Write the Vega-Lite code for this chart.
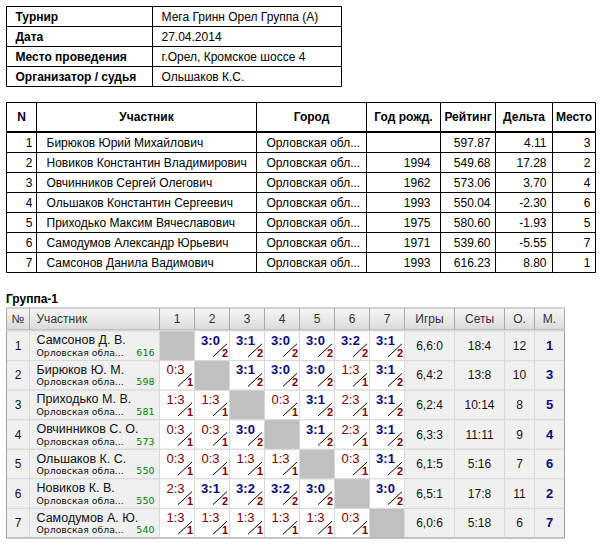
{
  "$schema": "https://vega.github.io/schema/vega-lite/v6.json",
  "background": "white",
  "padding": {"left": 5.5, "top": 5.5, "right": 0, "bottom": 0},
  "config": {
    "view": {"stroke": null},
    "axis": {"disable": true},
    "legend": {"disable": true},
    "locale": {"number": {"decimal": ".", "thousands": ",", "grouping": [3], "currency": ["$", ""], "minus": "-"}},
    "text": {"font": "Liberation Sans", "fontSize": 12, "baseline": "middle", "color": "black"}
  },
  "datasets": {
    "info": [
      {"k": 1, "label": "Турнир", "value": "Мега Гринн Орел Группа (А)"},
      {"k": 2, "label": "Дата", "value": "27.04.2014"},
      {"k": 3, "label": "Место проведения", "value": "г.Орел, Кромское шоссе 4"},
      {"k": 4, "label": "Организатор / судья", "value": "Ольшаков К.С."}
    ],
    "players": [
      {"n": 1, "name": "Бирюков Юрий Михайлович", "city": "Орловская обл...", "year": null, "rating": 597.87, "delta": 4.11, "place": 3},
      {"n": 2, "name": "Новиков Константин Владимирович", "city": "Орловская обл...", "year": 1994, "rating": 549.68, "delta": 17.28, "place": 2},
      {"n": 3, "name": "Овчинников Сергей Олегович", "city": "Орловская обл...", "year": 1962, "rating": 573.06, "delta": 3.70, "place": 4},
      {"n": 4, "name": "Ольшаков Константин Сергеевич", "city": "Орловская обл...", "year": 1993, "rating": 550.04, "delta": -2.30, "place": 6},
      {"n": 5, "name": "Приходько Максим Вячеславович", "city": "Орловская обл...", "year": 1975, "rating": 580.60, "delta": -1.93, "place": 5},
      {"n": 6, "name": "Самодумов Александр Юрьевич", "city": "Орловская обл...", "year": 1971, "rating": 539.60, "delta": -5.55, "place": 7},
      {"n": 7, "name": "Самсонов Данила Вадимович", "city": "Орловская обл...", "year": 1993, "rating": 616.23, "delta": 8.80, "place": 1}
    ],
    "group": [
      {"r": 1, "name": "Самсонов Д. В.", "region": "Орловская обла...", "rating": 616, "games": "6,6:0", "sets": "18:4", "points": 12, "place": 1},
      {"r": 2, "name": "Бирюков Ю. М.", "region": "Орловская обла...", "rating": 598, "games": "6,4:2", "sets": "13:8", "points": 10, "place": 3},
      {"r": 3, "name": "Приходько М. В.", "region": "Орловская обла...", "rating": 581, "games": "6,2:4", "sets": "10:14", "points": 8, "place": 5},
      {"r": 4, "name": "Овчинников С. О.", "region": "Орловская обла...", "rating": 573, "games": "6,3:3", "sets": "11:11", "points": 9, "place": 4},
      {"r": 5, "name": "Ольшаков К. С.", "region": "Орловская обла...", "rating": 550, "games": "6,1:5", "sets": "5:16", "points": 7, "place": 6},
      {"r": 6, "name": "Новиков К. В.", "region": "Орловская обла...", "rating": 550, "games": "6,5:1", "sets": "17:8", "points": 11, "place": 2},
      {"r": 7, "name": "Самодумов А. Ю.", "region": "Орловская обла...", "rating": 540, "games": "6,0:6", "sets": "5:18", "points": 6, "place": 7}
    ],
    "results": [
      {"r": 1, "c": 2, "score": "3:0", "pts": 2}, {"r": 1, "c": 3, "score": "3:1", "pts": 2}, {"r": 1, "c": 4, "score": "3:0", "pts": 2},
      {"r": 1, "c": 5, "score": "3:0", "pts": 2}, {"r": 1, "c": 6, "score": "3:2", "pts": 2}, {"r": 1, "c": 7, "score": "3:1", "pts": 2},
      {"r": 2, "c": 1, "score": "0:3", "pts": 1}, {"r": 2, "c": 3, "score": "3:1", "pts": 2}, {"r": 2, "c": 4, "score": "3:0", "pts": 2},
      {"r": 2, "c": 5, "score": "3:0", "pts": 2}, {"r": 2, "c": 6, "score": "1:3", "pts": 1}, {"r": 2, "c": 7, "score": "3:1", "pts": 2},
      {"r": 3, "c": 1, "score": "1:3", "pts": 1}, {"r": 3, "c": 2, "score": "1:3", "pts": 1}, {"r": 3, "c": 4, "score": "0:3", "pts": 1},
      {"r": 3, "c": 5, "score": "3:1", "pts": 2}, {"r": 3, "c": 6, "score": "2:3", "pts": 1}, {"r": 3, "c": 7, "score": "3:1", "pts": 2},
      {"r": 4, "c": 1, "score": "0:3", "pts": 1}, {"r": 4, "c": 2, "score": "0:3", "pts": 1}, {"r": 4, "c": 3, "score": "3:0", "pts": 2},
      {"r": 4, "c": 5, "score": "3:1", "pts": 2}, {"r": 4, "c": 6, "score": "2:3", "pts": 1}, {"r": 4, "c": 7, "score": "3:1", "pts": 2},
      {"r": 5, "c": 1, "score": "0:3", "pts": 1}, {"r": 5, "c": 2, "score": "0:3", "pts": 1}, {"r": 5, "c": 3, "score": "1:3", "pts": 1},
      {"r": 5, "c": 4, "score": "1:3", "pts": 1}, {"r": 5, "c": 6, "score": "0:3", "pts": 1}, {"r": 5, "c": 7, "score": "3:1", "pts": 2},
      {"r": 6, "c": 1, "score": "2:3", "pts": 1}, {"r": 6, "c": 2, "score": "3:1", "pts": 2}, {"r": 6, "c": 3, "score": "3:2", "pts": 2},
      {"r": 6, "c": 4, "score": "3:2", "pts": 2}, {"r": 6, "c": 5, "score": "3:0", "pts": 2}, {"r": 6, "c": 7, "score": "3:0", "pts": 2},
      {"r": 7, "c": 1, "score": "1:3", "pts": 1}, {"r": 7, "c": 2, "score": "1:3", "pts": 1}, {"r": 7, "c": 3, "score": "1:3", "pts": 1},
      {"r": 7, "c": 4, "score": "1:3", "pts": 1}, {"r": 7, "c": 5, "score": "1:3", "pts": 1}, {"r": 7, "c": 6, "score": "0:3", "pts": 1}
    ],
    "diag": [{"r": 1, "c": 1}, {"r": 2, "c": 2}, {"r": 3, "c": 3}, {"r": 4, "c": 4}, {"r": 5, "c": 5}, {"r": 6, "c": 6}, {"r": 7, "c": 7}]
  },
  "spacing": 18.5,
  "vconcat": [
    {
      "spacing": 14,
      "vconcat": [
        {
          "spacing": 0, "bounds": "flush",
          "hconcat": [
            {"width": 146, "height": 80, "data": {"name": "info"}, "layer": [
              {"mark": {"type": "rect", "fill": "white", "stroke": "black"}, "encoding": {"y": {"field": "k", "type": "ordinal", "scale": {"paddingInner": 0, "paddingOuter": 0}}, "x": {"value": 0}, "x2": {"value": "width"}}},
              {"mark": {"type": "text", "align": "left", "dx": 9, "fontWeight": "bold"}, "encoding": {"y": {"field": "k", "type": "ordinal", "scale": {"paddingInner": 0, "paddingOuter": 0}}, "x": {"value": 0}, "text": {"field": "label"}}}
            ]},
            {"width": 189, "height": 80, "data": {"name": "info"}, "layer": [
              {"mark": {"type": "rect", "fill": "white", "stroke": "black"}, "encoding": {"y": {"field": "k", "type": "ordinal", "scale": {"paddingInner": 0, "paddingOuter": 0}}, "x": {"value": 0}, "x2": {"value": "width"}}},
              {"mark": {"type": "text", "align": "left", "dx": 9}, "encoding": {"y": {"field": "k", "type": "ordinal", "scale": {"paddingInner": 0, "paddingOuter": 0}}, "x": {"value": 0}, "text": {"field": "value"}}}
            ]}
          ]
        },
        {
          "spacing": -1,
          "vconcat": [
            {
              "spacing": 0, "bounds": "flush",
              "hconcat": [
                {"width": 30, "height": 29, "data": {"values": [{"h": "N"}]}, "layer": [
                  {"mark": {"type": "rect", "fill": "white", "stroke": "black"}, "encoding": {"x": {"value": 0}, "x2": {"value": "width"}, "y": {"value": 0}, "y2": {"value": "height"}}},
                  {"mark": {"type": "text", "fontWeight": "bold"}, "encoding": {"text": {"field": "h"}}}
                ]},
                {"width": 220, "height": 29, "data": {"values": [{"h": "Участник"}]}, "layer": [
                  {"mark": {"type": "rect", "fill": "white", "stroke": "black"}, "encoding": {"x": {"value": 0}, "x2": {"value": "width"}, "y": {"value": 0}, "y2": {"value": "height"}}},
                  {"mark": {"type": "text", "fontWeight": "bold"}, "encoding": {"text": {"field": "h"}}}
                ]},
                {"width": 110, "height": 29, "data": {"values": [{"h": "Город"}]}, "layer": [
                  {"mark": {"type": "rect", "fill": "white", "stroke": "black"}, "encoding": {"x": {"value": 0}, "x2": {"value": "width"}, "y": {"value": 0}, "y2": {"value": "height"}}},
                  {"mark": {"type": "text", "fontWeight": "bold"}, "encoding": {"text": {"field": "h"}}}
                ]},
                {"width": 74, "height": 29, "data": {"values": [{"h": "Год рожд."}]}, "layer": [
                  {"mark": {"type": "rect", "fill": "white", "stroke": "black"}, "encoding": {"x": {"value": 0}, "x2": {"value": "width"}, "y": {"value": 0}, "y2": {"value": "height"}}},
                  {"mark": {"type": "text", "fontWeight": "bold"}, "encoding": {"text": {"field": "h"}}}
                ]},
                {"width": 55, "height": 29, "data": {"values": [{"h": "Рейтинг"}]}, "layer": [
                  {"mark": {"type": "rect", "fill": "white", "stroke": "black"}, "encoding": {"x": {"value": 0}, "x2": {"value": "width"}, "y": {"value": 0}, "y2": {"value": "height"}}},
                  {"mark": {"type": "text", "fontWeight": "bold"}, "encoding": {"text": {"field": "h"}}}
                ]},
                {"width": 57, "height": 29, "data": {"values": [{"h": "Дельта"}]}, "layer": [
                  {"mark": {"type": "rect", "fill": "white", "stroke": "black"}, "encoding": {"x": {"value": 0}, "x2": {"value": "width"}, "y": {"value": 0}, "y2": {"value": "height"}}},
                  {"mark": {"type": "text", "fontWeight": "bold"}, "encoding": {"text": {"field": "h"}}}
                ]},
                {"width": 43, "height": 29, "data": {"values": [{"h": "Место"}]}, "layer": [
                  {"mark": {"type": "rect", "fill": "white", "stroke": "black"}, "encoding": {"x": {"value": 0}, "x2": {"value": "width"}, "y": {"value": 0}, "y2": {"value": "height"}}},
                  {"mark": {"type": "text", "fontWeight": "bold"}, "encoding": {"text": {"field": "h"}}}
                ]}
              ]
            },
            {
              "spacing": 0, "bounds": "flush",
              "hconcat": [
                {"width": 30, "height": 140, "data": {"name": "players"}, "encoding": {"y": {"field": "n", "type": "ordinal", "scale": {"paddingInner": 0, "paddingOuter": 0}}}, "layer": [
                  {"mark": {"type": "rect", "fill": "white", "stroke": "black"}, "encoding": {"x": {"value": 0}, "x2": {"value": "width"}}},
                  {"mark": {"type": "text", "align": "right", "dx": -4}, "encoding": {"x": {"value": "width"}, "text": {"field": "n"}}}
                ]},
                {"width": 220, "height": 140, "data": {"name": "players"}, "encoding": {"y": {"field": "n", "type": "ordinal", "scale": {"paddingInner": 0, "paddingOuter": 0}}}, "layer": [
                  {"mark": {"type": "rect", "fill": "white", "stroke": "black"}, "encoding": {"x": {"value": 0}, "x2": {"value": "width"}}},
                  {"mark": {"type": "text", "align": "left", "dx": 10}, "encoding": {"x": {"value": 0}, "text": {"field": "name"}}}
                ]},
                {"width": 110, "height": 140, "data": {"name": "players"}, "encoding": {"y": {"field": "n", "type": "ordinal", "scale": {"paddingInner": 0, "paddingOuter": 0}}}, "layer": [
                  {"mark": {"type": "rect", "fill": "white", "stroke": "black"}, "encoding": {"x": {"value": 0}, "x2": {"value": "width"}}},
                  {"mark": {"type": "text", "align": "left", "dx": 10}, "encoding": {"x": {"value": 0}, "text": {"field": "city"}}}
                ]},
                {"width": 74, "height": 140, "data": {"name": "players"}, "encoding": {"y": {"field": "n", "type": "ordinal", "scale": {"paddingInner": 0, "paddingOuter": 0}}}, "layer": [
                  {"mark": {"type": "rect", "fill": "white", "stroke": "black"}, "encoding": {"x": {"value": 0}, "x2": {"value": "width"}}},
                  {"transform": [{"filter": "isValid(datum.year)"}], "mark": {"type": "text", "align": "right", "dx": -10}, "encoding": {"x": {"value": "width"}, "text": {"field": "year", "type": "nominal"}}}
                ]},
                {"width": 55, "height": 140, "data": {"name": "players"}, "encoding": {"y": {"field": "n", "type": "ordinal", "scale": {"paddingInner": 0, "paddingOuter": 0}}}, "layer": [
                  {"mark": {"type": "rect", "fill": "white", "stroke": "black"}, "encoding": {"x": {"value": 0}, "x2": {"value": "width"}}},
                  {"mark": {"type": "text", "align": "right", "dx": -5}, "encoding": {"x": {"value": "width"}, "text": {"field": "rating", "type": "quantitative", "format": ".2f"}}}
                ]},
                {"width": 57, "height": 140, "data": {"name": "players"}, "encoding": {"y": {"field": "n", "type": "ordinal", "scale": {"paddingInner": 0, "paddingOuter": 0}}}, "layer": [
                  {"mark": {"type": "rect", "fill": "white", "stroke": "black"}, "encoding": {"x": {"value": 0}, "x2": {"value": "width"}}},
                  {"mark": {"type": "text", "align": "right", "dx": -6}, "encoding": {"x": {"value": "width"}, "text": {"field": "delta", "type": "quantitative", "format": ".2f"}}}
                ]},
                {"width": 43, "height": 140, "data": {"name": "players"}, "encoding": {"y": {"field": "n", "type": "ordinal", "scale": {"paddingInner": 0, "paddingOuter": 0}}}, "layer": [
                  {"mark": {"type": "rect", "fill": "white", "stroke": "black"}, "encoding": {"x": {"value": 0}, "x2": {"value": "width"}}},
                  {"mark": {"type": "text", "align": "right", "dx": -5}, "encoding": {"x": {"value": "width"}, "text": {"field": "place"}}}
                ]}
              ]
            }
          ]
        }
      ]
    },
    {
      "spacing": -1,
      "title": {"text": "Группа-1", "anchor": "start", "font": "Liberation Sans", "fontSize": 12, "fontWeight": "bold", "color": "black", "offset": -7, "baseline": "alphabetic"},
      "vconcat": [
        {
          "spacing": 0, "bounds": "flush",
          "hconcat": [
            {"width": 23, "height": 22, "data": {"values": [{"h": "№"}]}, "layer": [
              {"mark": {"type": "rect", "stroke": "#a8a8a8", "fill": {"gradient": "linear", "x1": 0, "y1": 0, "x2": 0, "y2": 1, "stops": [{"offset": 0, "color": "#f8f8f8"}, {"offset": 1, "color": "#dadada"}]}}, "encoding": {"x": {"value": 0}, "x2": {"value": "width"}, "y": {"value": 0}, "y2": {"value": "height"}}},
              {"mark": {"type": "text", "color": "#333333"}, "encoding": {"text": {"field": "h"}}}
            ]},
            {"width": 130, "height": 22, "data": {"values": [{"h": "Участник"}]}, "layer": [
              {"mark": {"type": "rect", "stroke": "#a8a8a8", "fill": {"gradient": "linear", "x1": 0, "y1": 0, "x2": 0, "y2": 1, "stops": [{"offset": 0, "color": "#f8f8f8"}, {"offset": 1, "color": "#dadada"}]}}, "encoding": {"x": {"value": 0}, "x2": {"value": "width"}, "y": {"value": 0}, "y2": {"value": "height"}}},
              {"mark": {"type": "text", "color": "#333333", "align": "left", "dx": 7}, "encoding": {"x": {"value": 0}, "text": {"field": "h"}}}
            ]},
            {"width": 245, "height": 22, "data": {"values": [{"c": 1}, {"c": 2}, {"c": 3}, {"c": 4}, {"c": 5}, {"c": 6}, {"c": 7}]}, "encoding": {"x": {"field": "c", "type": "ordinal", "scale": {"paddingInner": 0, "paddingOuter": 0}}}, "layer": [
              {"mark": {"type": "rect", "stroke": "#a8a8a8", "fill": {"gradient": "linear", "x1": 0, "y1": 0, "x2": 0, "y2": 1, "stops": [{"offset": 0, "color": "#f8f8f8"}, {"offset": 1, "color": "#dadada"}]}}, "encoding": {"y": {"value": 0}, "y2": {"value": "height"}}},
              {"mark": {"type": "text", "color": "#333333"}, "encoding": {"text": {"field": "c"}}}
            ]},
            {"width": 50, "height": 22, "data": {"values": [{"h": "Игры"}]}, "layer": [
              {"mark": {"type": "rect", "stroke": "#a8a8a8", "fill": {"gradient": "linear", "x1": 0, "y1": 0, "x2": 0, "y2": 1, "stops": [{"offset": 0, "color": "#f8f8f8"}, {"offset": 1, "color": "#dadada"}]}}, "encoding": {"x": {"value": 0}, "x2": {"value": "width"}, "y": {"value": 0}, "y2": {"value": "height"}}},
              {"mark": {"type": "text", "color": "#333333"}, "encoding": {"text": {"field": "h"}}}
            ]},
            {"width": 50, "height": 22, "data": {"values": [{"h": "Сеты"}]}, "layer": [
              {"mark": {"type": "rect", "stroke": "#a8a8a8", "fill": {"gradient": "linear", "x1": 0, "y1": 0, "x2": 0, "y2": 1, "stops": [{"offset": 0, "color": "#f8f8f8"}, {"offset": 1, "color": "#dadada"}]}}, "encoding": {"x": {"value": 0}, "x2": {"value": "width"}, "y": {"value": 0}, "y2": {"value": "height"}}},
              {"mark": {"type": "text", "color": "#333333"}, "encoding": {"text": {"field": "h"}}}
            ]},
            {"width": 30, "height": 22, "data": {"values": [{"h": "О."}]}, "layer": [
              {"mark": {"type": "rect", "stroke": "#a8a8a8", "fill": {"gradient": "linear", "x1": 0, "y1": 0, "x2": 0, "y2": 1, "stops": [{"offset": 0, "color": "#f8f8f8"}, {"offset": 1, "color": "#dadada"}]}}, "encoding": {"x": {"value": 0}, "x2": {"value": "width"}, "y": {"value": 0}, "y2": {"value": "height"}}},
              {"mark": {"type": "text", "color": "#333333"}, "encoding": {"text": {"field": "h"}}}
            ]},
            {"width": 30, "height": 22, "data": {"values": [{"h": "М."}]}, "layer": [
              {"mark": {"type": "rect", "stroke": "#a8a8a8", "fill": {"gradient": "linear", "x1": 0, "y1": 0, "x2": 0, "y2": 1, "stops": [{"offset": 0, "color": "#f8f8f8"}, {"offset": 1, "color": "#dadada"}]}}, "encoding": {"x": {"value": 0}, "x2": {"value": "width"}, "y": {"value": 0}, "y2": {"value": "height"}}},
              {"mark": {"type": "text", "color": "#333333"}, "encoding": {"text": {"field": "h"}}}
            ]}
          ]
        },
        {
          "spacing": 0, "bounds": "flush",
          "hconcat": [
            {"width": 23, "height": 207, "data": {"name": "group"}, "encoding": {"y": {"field": "r", "type": "ordinal", "scale": {"paddingInner": 0, "paddingOuter": 0}}}, "layer": [
              {"mark": {"type": "rect", "fill": "#f0f0f0", "stroke": "#d8d8d8"}, "encoding": {"x": {"value": 0}, "x2": {"value": "width"}}},
              {"mark": {"type": "text", "color": "#111111"}, "encoding": {"text": {"field": "r"}}},
              {"data": {"values": [{}]}, "mark": {"type": "rule", "color": "#a0a0a0"}, "encoding": {"x": {"value": 0}, "y": {"value": 0}, "y2": {"value": "height"}}},
              {"data": {"values": [{}]}, "mark": {"type": "rule", "color": "#a0a0a0"}, "encoding": {"x": {"value": 0}, "x2": {"value": "width"}, "y": {"value": "height"}}}
            ]},
            {"width": 130, "height": 207, "data": {"name": "group"}, "encoding": {"y": {"field": "r", "type": "ordinal", "scale": {"paddingInner": 0, "paddingOuter": 0}}}, "layer": [
              {"mark": {"type": "rect", "fill": "#f0f0f0", "stroke": "#d8d8d8"}, "encoding": {"x": {"value": 0}, "x2": {"value": "width"}}},
              {"mark": {"type": "text", "align": "left", "dx": 7, "dy": -5.5, "fontSize": 12.5, "color": "#111111"}, "encoding": {"x": {"value": 0}, "text": {"field": "name"}}},
              {"mark": {"type": "text", "align": "left", "dx": 7, "dy": 7, "fontSize": 9.3, "font": "DejaVu Sans", "color": "#111111"}, "encoding": {"x": {"value": 0}, "text": {"field": "region"}}},
              {"mark": {"type": "text", "align": "right", "dx": -5, "dy": 7, "fontSize": 9.5, "font": "DejaVu Sans", "color": "#008000"}, "encoding": {"x": {"value": "width"}, "text": {"field": "rating"}}},
              {"data": {"values": [{}]}, "mark": {"type": "rule", "color": "#a0a0a0"}, "encoding": {"x": {"value": 0}, "x2": {"value": "width"}, "y": {"value": "height"}}}
            ]},
            {"width": 245, "height": 207, "data": {"name": "results"}, "encoding": {"x": {"field": "c", "type": "ordinal", "scale": {"paddingInner": 0, "paddingOuter": 0}}, "y": {"field": "r", "type": "ordinal", "scale": {"paddingInner": 0, "paddingOuter": 0}}}, "layer": [
              {"mark": {"type": "rect", "fill": "white", "stroke": "#d8d8d8"}},
              {"data": {"name": "diag"}, "mark": {"type": "rect", "fill": "#c0c0c0", "stroke": "#d8d8d8"}},
              {"transform": [{"filter": "datum.pts == 2"}], "mark": {"type": "text", "fontSize": 13, "fontWeight": "bold", "color": "#0a0a80", "dx": -1.5, "dy": -5}, "encoding": {"text": {"field": "score"}}},
              {"transform": [{"filter": "datum.pts == 1"}], "mark": {"type": "text", "fontSize": 13, "color": "#800000", "dx": -1.5, "dy": -5}, "encoding": {"text": {"field": "score"}}},
              {"mark": {"type": "rule", "color": "#000000", "strokeWidth": 1, "xOffset": 1, "x2Offset": 15, "yOffset": 11, "y2Offset": -2}, "encoding": {"x2": {"field": "c"}, "y2": {"field": "r"}}},
              {"mark": {"type": "text", "align": "right", "fontSize": 11, "fontWeight": "bold", "color": "#800000", "dx": 16, "dy": 8}, "encoding": {"text": {"field": "pts"}}},
              {"data": {"values": [{}]}, "mark": {"type": "rule", "color": "#a0a0a0"}, "encoding": {"x": {"value": 0}, "x2": {"value": "width"}, "y": {"value": "height"}}}
            ]},
            {"width": 50, "height": 207, "data": {"name": "group"}, "encoding": {"y": {"field": "r", "type": "ordinal", "scale": {"paddingInner": 0, "paddingOuter": 0}}}, "layer": [
              {"mark": {"type": "rect", "fill": "#f0f0f0", "stroke": "#d8d8d8"}, "encoding": {"x": {"value": 0}, "x2": {"value": "width"}}},
              {"mark": {"type": "text", "color": "#111111"}, "encoding": {"text": {"field": "games"}}},
              {"data": {"values": [{}]}, "mark": {"type": "rule", "color": "#a0a0a0"}, "encoding": {"x": {"value": 0}, "x2": {"value": "width"}, "y": {"value": "height"}}}
            ]},
            {"width": 50, "height": 207, "data": {"name": "group"}, "encoding": {"y": {"field": "r", "type": "ordinal", "scale": {"paddingInner": 0, "paddingOuter": 0}}}, "layer": [
              {"mark": {"type": "rect", "fill": "#f0f0f0", "stroke": "#d8d8d8"}, "encoding": {"x": {"value": 0}, "x2": {"value": "width"}}},
              {"mark": {"type": "text", "color": "#111111"}, "encoding": {"text": {"field": "sets"}}},
              {"data": {"values": [{}]}, "mark": {"type": "rule", "color": "#a0a0a0"}, "encoding": {"x": {"value": 0}, "x2": {"value": "width"}, "y": {"value": "height"}}}
            ]},
            {"width": 30, "height": 207, "data": {"name": "group"}, "encoding": {"y": {"field": "r", "type": "ordinal", "scale": {"paddingInner": 0, "paddingOuter": 0}}}, "layer": [
              {"mark": {"type": "rect", "fill": "#f0f0f0", "stroke": "#d8d8d8"}, "encoding": {"x": {"value": 0}, "x2": {"value": "width"}}},
              {"mark": {"type": "text", "color": "#111111"}, "encoding": {"text": {"field": "points"}}},
              {"data": {"values": [{}]}, "mark": {"type": "rule", "color": "#a0a0a0"}, "encoding": {"x": {"value": 0}, "x2": {"value": "width"}, "y": {"value": "height"}}}
            ]},
            {"width": 30, "height": 207, "data": {"name": "group"}, "encoding": {"y": {"field": "r", "type": "ordinal", "scale": {"paddingInner": 0, "paddingOuter": 0}}}, "layer": [
              {"mark": {"type": "rect", "fill": "#f0f0f0", "stroke": "#d8d8d8"}, "encoding": {"x": {"value": 0}, "x2": {"value": "width"}}},
              {"mark": {"type": "text", "fontSize": 13, "fontWeight": "bold", "color": "#0a0a80"}, "encoding": {"text": {"field": "place"}}},
              {"data": {"values": [{}]}, "mark": {"type": "rule", "color": "#a0a0a0"}, "encoding": {"x": {"value": 0}, "x2": {"value": "width"}, "y": {"value": "height"}}},
              {"data": {"values": [{}]}, "mark": {"type": "rule", "color": "#a0a0a0"}, "encoding": {"x": {"value": "width"}, "y": {"value": 0}, "y2": {"value": "height"}}}
            ]}
          ]
        }
      ]
    }
  ]
}
